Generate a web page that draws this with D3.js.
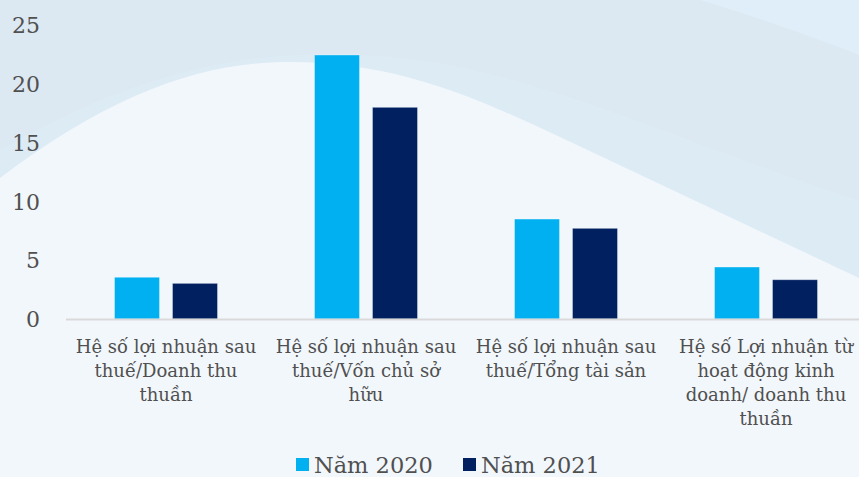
<!DOCTYPE html>
<html><head><meta charset="utf-8">
<script src="https://cdn.jsdelivr.net/npm/d3@7"></script>
<style>body{margin:0;background:#dce8f2}svg{display:block}</style>
</head><body>
<script>
const categories = [
  ["Hệ số lợi nhuận sau","thuế/Doanh thu","thuần"],
  ["Hệ số lợi nhuận sau","thuế/Vốn chủ sở","hữu"],
  ["Hệ số lợi nhuận sau","thuế/Tổng tài sản"],
  ["Hệ số Lợi nhuận từ","hoạt động kinh","doanh/ doanh thu","thuần"]
];
const seriesNames = ["Năm 2020","Năm 2021"];
const values2020 = [3.55, 22.45, 8.5, 4.42];
const values2021 = [3.03, 18.0, 7.71, 3.34];
const yTicks = [0,5,10,15,20,25];
const colors = ["#00b0f0","#002060"];

const W=859,H=477;
const svg=d3.select("body").append("svg").attr("width",W).attr("height",H);
const font="'DejaVu Serif', serif";

// background
svg.append("rect").attr("width",W).attr("height",H).attr("fill","#dce8f2");
svg.append("path").attr("d","M700,0 C760,18 820,40 859,55 L859,0 Z").attr("fill","#dfeef8");
svg.append("path").attr("d","M0,150 C140,70 260,40 420,60 C560,80 700,150 859,200 L859,300 L0,300 Z").attr("fill","#ddedf7").attr("opacity",0.6);
svg.append("path").attr("d","M0,178 C110,95 200,62 290,62 C400,62 480,100 560,137 L859,278 L859,477 L0,477 Z").attr("fill","#f2f7fc");

const y=d3.scaleLinear().domain([0,25]).range([319,25]);
const x0=d3.scaleBand().domain(d3.range(categories.length)).range([66,866]).paddingInner(0).paddingOuter(0);
const x1=d3.scaleBand().domain([0,1]).range([x0.bandwidth()/2-51.5,x0.bandwidth()/2+51.5]).paddingInner(0.224).paddingOuter(0);

const data=categories.map((c,i)=>[values2020[i],values2021[i]]);
const g=svg.append("g");
g.selectAll("g.cat").data(data).join("g").attr("transform",(d,i)=>`translate(${x0(i)},0)`)
 .selectAll("rect").data(d=>d).join("rect")
 .attr("x",(d,j)=>x1(j)).attr("width",x1.bandwidth())
 .attr("y",d=>y(d)).attr("height",d=>y(0)-y(d))
 .attr("fill",(d,j)=>colors[j]).attr("stroke","rgba(255,255,255,0.35)").attr("stroke-width",1);

// axis line
svg.append("line").attr("x1",66).attr("x2",W).attr("y1",319.5).attr("y2",319.5).attr("stroke","#d9d9d9").attr("stroke-width",2);

// y axis
const ya=svg.append("g").attr("transform","translate(40,0)").call(d3.axisLeft(y).tickValues(yTicks).tickSize(0).tickPadding(0));
ya.select(".domain").remove();
ya.selectAll("text").attr("font-family",font).attr("font-size",22).attr("fill","#505050").attr("dy","0.35em");

// category labels
const lab=svg.append("g");
categories.forEach((lines,i)=>{
  const t=lab.append("text").attr("text-anchor","middle").attr("font-family",font).attr("font-size",18).attr("fill","#505050");
  lines.forEach((l,k)=>t.append("tspan").attr("x",x0(i)+x0.bandwidth()/2).attr("y",353+k*24).text(l));
});

// legend
const leg=svg.append("g");
const lx=[296,463];
seriesNames.forEach((n,i)=>{
  leg.append("rect").attr("x",lx[i]).attr("y",458).attr("width",13).attr("height",13).attr("fill",colors[i]);
  leg.append("text").attr("x",lx[i]+18).attr("y",473).attr("font-family",font).attr("font-size",22.5).attr("fill","#505050").text(n);
});
</script>
</body></html>
